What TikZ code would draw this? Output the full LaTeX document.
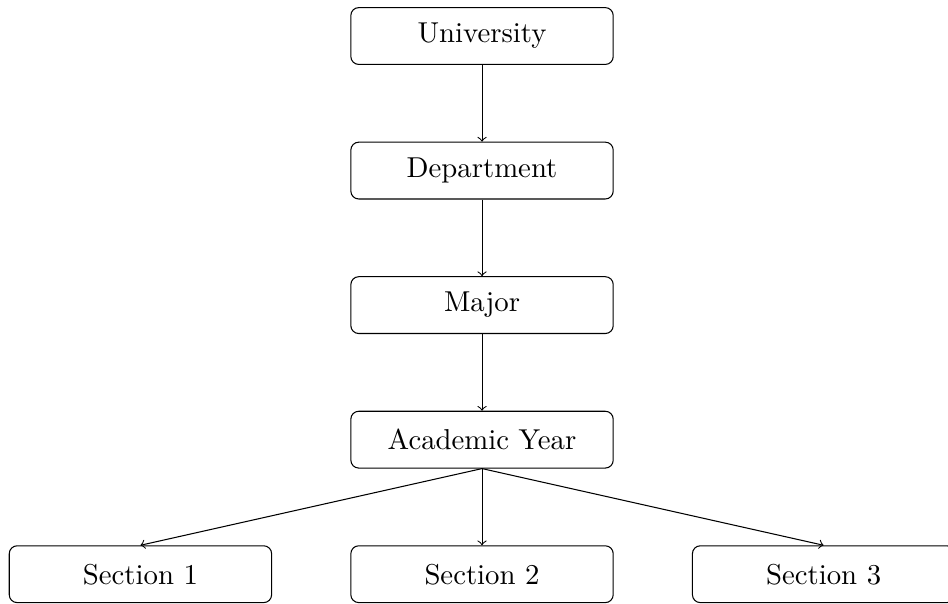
\documentclass[tikz,border=0pt,11pt]{standalone}
\usetikzlibrary{positioning}
\begin{document}
\begin{tikzpicture}[node distance=1.8cm and 4.57cm,on grid,
  unitbox/.style={draw,rounded corners=3pt,minimum width=3.51cm,minimum height=.76cm,inner sep=0pt}]
\useasboundingbox(-6.449,.482)rectangle(6.234,-7.598);
\node[unitbox](univ){University};
\node[unitbox,below=of univ](dept){Department};
\node[unitbox,below=of dept](major){Major};
\node[unitbox,below=of major](year){Academic Year};
\node[unitbox,below=of year](sec2){Section 2};
\node[unitbox,left=of sec2](sec1){Section 1};
\node[unitbox,right=of sec2](sec3){Section 3};
\draw[->](univ)--(dept);\draw[->](dept)--(major);\draw[->](major)--(year);
\foreach \i in {1,2,3}{\draw[->](year.south)--(sec\i.north);}
\end{tikzpicture}
\end{document}
